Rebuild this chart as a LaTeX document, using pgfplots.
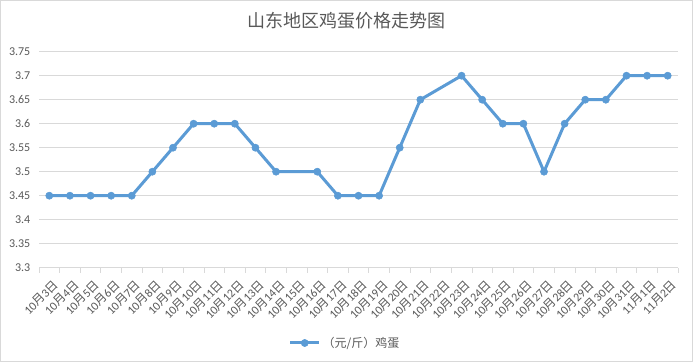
\documentclass[border=0pt]{standalone}
\usepackage{fontspec}
\setmainfont{Carlito}
\newfontfamily\cjk{Noto Sans CJK SC}
\usepackage{pgfplots}
\pgfplotsset{compat=1.18}
\definecolor{txt}{HTML}{595959}
\definecolor{grd}{HTML}{D9D9D9}
\definecolor{ser}{HTML}{5B9BD5}
\newcommand\md[2]{#1{\cjk 月}#2{\cjk 日}}
\begin{document}
\begin{tikzpicture}
\useasboundingbox (0,0) rectangle (693bp,362bp);
\fill[white] (0,0) rectangle (693bp,362bp);
\draw[grd, line width=0.75bp] (0.5bp,0.5bp) rectangle (692.5bp,361.5bp);
\node[text=txt, font=\cjk\fontsize{18bp}{20bp}\selectfont] at (346.5bp,341bp) {山东地区鸡蛋价格走势图};
\begin{axis}[
  at={(39bp,94.3bp)}, anchor=south west,
  scale only axis, width=639bp, height=216bp,
  xmin=-0.5, xmax=30.5, ymin=3.3, ymax=3.75,
  axis lines*=left,
  y axis line style={draw=none},
  x axis line style={grd, line width=0.75bp},
  ymajorgrids, grid style={grd, line width=0.75bp},
  tick align=outside,
  major tick length=0pt, minor tick length=5bp,
  major x tick style={draw=none},
  ytick style={draw=none},
  minor x tick style={grd, line width=0.75bp},
  minor xtick={-0.5,0.5,...,30.5},
  xtick={0,...,30},
  xticklabels={\md{10}{3},\md{10}{4},\md{10}{5},\md{10}{6},\md{10}{7},\md{10}{8},\md{10}{9},\md{10}{10},\md{10}{11},\md{10}{12},\md{10}{13},\md{10}{14},\md{10}{15},\md{10}{16},\md{10}{17},\md{10}{18},\md{10}{19},\md{10}{20},\md{10}{21},\md{10}{22},\md{10}{23},\md{10}{24},\md{10}{25},\md{10}{26},\md{10}{27},\md{10}{28},\md{10}{29},\md{10}{30},\md{10}{31},\md{11}{1},\md{11}{2}},
  xticklabel style={xshift=3bp, yshift=-11bp, rotate=45, anchor=north east, inner sep=0pt, font=\fontsize{12bp}{14bp}\selectfont, text=txt},
  ytick={3.3,3.35,3.4,3.45,3.5,3.55,3.6,3.65,3.7,3.75},
  yticklabels={3.3,3.35,3.4,3.45,3.5,3.55,3.6,3.65,3.7,3.75},
  yticklabel style={inner sep=0pt, xshift=-8.5bp, anchor=east, font=\fontsize{12bp}{14bp}\selectfont, text=txt},
  legend style={at={(axis description cs:0.479,-0.3486)}, anchor=center, draw=none, fill=none, font=\cjk\fontsize{12bp}{14bp}\selectfont, text=txt},
  legend image code/.code={\draw[#1, mark repeat=2, mark phase=2] plot coordinates {(0bp,0bp) (14.5bp,0bp) (29bp,0bp)};},
  clip=false,
]
\addplot[ser, line width=3bp, line join=round, mark=*, mark size=3.6bp, mark options={solid, fill=ser, draw=ser, line width=0.5bp}] coordinates {
(0,3.45) (1,3.45) (2,3.45) (3,3.45) (4,3.45) (5,3.5) (6,3.55) (7,3.6) (8,3.6) (9,3.6) (10,3.55) (11,3.5) (13,3.5) (14,3.45) (15,3.45) (16,3.45) (17,3.55) (18,3.65) (20,3.7) (21,3.65) (22,3.6) (23,3.6) (24,3.5) (25,3.6) (26,3.65) (27,3.65) (28,3.7) (29,3.7) (30,3.7)
};
\addlegendentry{（元/斤）鸡蛋}
\end{axis}
\end{tikzpicture}
\end{document}
